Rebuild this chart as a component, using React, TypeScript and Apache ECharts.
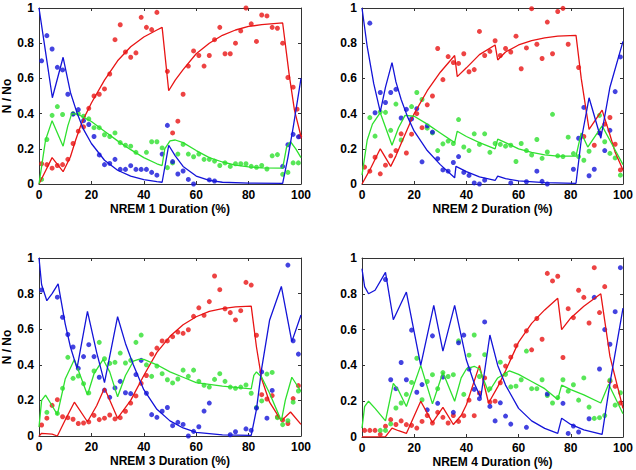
import React, { useEffect, useRef } from "react";
import * as echarts from "echarts";

const xTicks = [0, 20, 40, 60, 80, 100];
const yTicks = [0, 0.2, 0.4, 0.6, 0.8, 1];
const panelTitles = ["NREM 1 Duration (%)", "NREM 2 Duration (%)", "NREM 3 Duration (%)", "NREM 4 Duration (%)"];
const yTitle = "N / No";

// Panel 1 data
const p1Red = [[1,0.115],[3,0.11],[5,0.09],[7,0.105],[9,0.11],[11,0.14],[13,0.23],[15,0.30],[17,0.325],[19,0.43],[21,0.50],[23,0.51],[25,0.54],[27,0.625],[29,0.82],[31,0.905],[33,0.75],[35,0.72],[37,0.745],[39,0.947],[41,0.89],[43,0.877],[45,0.975],[49,0.64],[51,0.29],[53,0.357],[55,0.51],[57,0.67],[59,0.756],[61,0.73],[63,0.67],[65,0.73],[67,0.82],[69,0.89],[71,0.74],[73,0.74],[75,0.80],[77,0.87],[79,1.0],[81,0.91],[83,0.81],[85,0.96],[87,0.955],[89,0.89],[91,0.885],[93,0.80],[95,0.605],[97,0.55],[98.5,0.425],[99.5,0.27]];
const p1Green = [[1,0.026],[3,0.253],[5,0.39],[7,0.44],[9,0.395],[13,0.40],[15,0.40],[17,0.385],[19,0.37],[21,0.32],[23,0.32],[25,0.28],[27,0.27],[29,0.29],[31,0.235],[33,0.22],[35,0.215],[37,0.18],[41,0.18],[43,0.24],[45,0.24],[47,0.205],[49,0.093],[51,0.12],[53,0.17],[55,0.225],[57,0.17],[59,0.155],[61,0.17],[63,0.14],[65,0.14],[67,0.13],[69,0.105],[71,0.12],[73,0.10],[75,0.115],[77,0.115],[79,0.115],[81,0.10],[83,0.095],[85,0.105],[87,0.085],[89,0.16],[91,0.167],[93,0.055],[95,0.066],[97,0.12],[99,0.12]];
const p1Blue = [[1,0.70],[3,0.843],[5,0.767],[7,0.663],[9,0.648],[11,0.51],[13,0.397],[15,0.423],[17,0.36],[19,0.338],[21,0.27],[23,0.165],[25,0.11],[27,0.117],[29,0.14],[31,0.083],[33,0.083],[35,0.104],[37,0.083],[39,0.083],[41,0.083],[43,0.066],[45,0.05],[47,0.17],[49,0.333],[51,0.127],[53,0.057],[55,0.074],[57,0.026],[59,0.0],[65,0.023],[67,0.017],[93,0.1],[95,0.223],[97,0.282],[99,0.268]];
const p1RedFit = [[0,0],[2,0.06],[5,0.15],[9.2,0.07],[12,0.155],[14,0.25],[16,0.335],[18,0.40],[20,0.46],[25,0.59],[30,0.70],[35,0.78],[40,0.835],[45,0.875],[47,0.89],[49.5,0.53],[52,0.59],[55,0.65],[60,0.74],[65,0.8],[70,0.845],[75,0.875],[80,0.895],[85,0.905],[93,0.915],[95.5,0.62],[97.5,0.42],[100,0.27]];
const p1GreenFit = [[0,0],[1,0.1],[2.5,0.25],[5,0.36],[9.2,0.215],[11,0.33],[12.5,0.4],[15,0.395],[20,0.355],[25,0.30],[30,0.245],[35,0.195],[40,0.15],[45,0.115],[47,0.105],[48,0.2],[50,0.245],[52,0.25],[55,0.235],[60,0.19],[65,0.15],[70,0.125],[75,0.107],[80,0.097],[85,0.092],[93,0.09],[94.5,0.21],[96,0.24],[98,0.2],[100,0.15]];
const p1BlueFit = [[0,1],[2,0.8],[5.1,0.49],[9.2,0.72],[12,0.52],[14.6,0.40],[17,0.31],[20,0.23],[25,0.135],[30,0.078],[35,0.045],[40,0.025],[45,0.013],[47,0.01],[49.5,0.22],[52,0.16],[55,0.1],[60,0.045],[65,0.02],[70,0.01],[80,0.005],[93,0.003],[95,0.15],[97,0.32],[100,0.6]];

// Panel 2 data
const p2Red = [[1,0.096],[3,0.073],[5,0.152],[7,0.058],[9,0.107],[11,0.16],[13,0.19],[15,0.285],[17,0.176],[19,0.283],[21,0.40],[23,0.32],[25,0.45],[27,0.50],[29,0.77],[31,0.593],[33,0.724],[35,0.69],[37,0.685],[39,0.74],[41,0.638],[43,0.65],[45,0.867],[47,0.73],[49,0.754],[51,0.814],[53,0.73],[55,0.77],[57,0.75],[59,0.84],[61,0.655],[63,0.773],[65,0.996],[67,0.794],[69,0.713],[71,0.92],[73,0.74],[75,0.98],[77,0.998],[79,0.794],[83,0.662],[85,0.27],[89,0.22],[91,0.29],[93,0.34],[95,0.378],[97,0.226],[99,0.08]];
const p2Green = [[3,0.377],[5,0.272],[7,0.41],[9,0.407],[11,0.305],[13,0.454],[15,0.25],[19,0.44],[21,0.52],[23,0.48],[25,0.317],[27,0.29],[29,0.19],[31,0.228],[33,0.244],[35,0.23],[37,0.366],[39,0.21],[41,0.19],[43,0.285],[45,0.225],[47,0.285],[49,0.18],[51,0.23],[53,0.225],[55,0.215],[57,0.22],[59,0.128],[61,0.23],[63,0.19],[65,0.165],[67,0.253],[69,0.146],[71,0.182],[73,0.396],[75,0.16],[77,0.156],[79,0.266],[81,0.173],[83,0.156],[85,0.135],[87,0.186],[91,0.39],[93,0.24],[95,0.174],[97,0.148],[99,0.05]];
const p2Blue = [[3,0.914],[5,0.405],[7,0.52],[9,0.463],[11,0.52],[13,0.538],[15,0.375],[17,0.424],[19,0.37],[21,0.428],[23,0.126],[25,0.33],[27,0.295],[29,0.144],[31,0.08],[33,0.073],[35,0.122],[37,0.156],[39,0.066],[41,0.049],[43,0.006],[45,0.0],[47,0.022],[57,0.006],[63,0.013],[67,0.073],[69,0.015],[71,0.0],[81,0.084],[83,0.26],[85,0.435],[87,0.047],[89,0.084],[91,0.29],[93,0.19],[95,0.305],[97,0.525],[99,0.722]];
const p2RedFit = [[0,0],[3,0.08],[7,0.2],[11,0.1],[13,0.16],[15,0.23],[20,0.40],[25,0.53],[30,0.635],[35.5,0.73],[36.5,0.61],[40,0.66],[45,0.735],[51,0.79],[52,0.705],[55,0.75],[60,0.79],[65,0.815],[70,0.83],[75,0.84],[82,0.845],[84,0.6],[87,0.31],[92,0.42],[95,0.28],[97,0.18],[100,0.08]];
const p2GreenFit = [[0,0.05],[2,0.25],[4,0.34],[7,0.405],[11.5,0.22],[14,0.32],[16.5,0.39],[20,0.385],[25,0.34],[30,0.29],[35.5,0.235],[36.5,0.3],[40,0.27],[45,0.235],[51,0.2],[52,0.255],[55,0.235],[60,0.2],[65,0.18],[70,0.165],[75,0.158],[82,0.158],[84,0.29],[86.5,0.21],[92,0.33],[96,0.22],[100,0.11]];
const p2BlueFit = [[0,1],[2,0.78],[4.5,0.57],[7,0.41],[9,0.55],[11.5,0.69],[13,0.58],[15,0.48],[17.5,0.38],[20,0.30],[25,0.19],[30,0.11],[35.5,0.035],[36,0.1],[40,0.07],[45,0.04],[51,0.02],[52,0.045],[55,0.03],[60,0.018],[70,0.008],[82,0.004],[84,0.25],[87,0.49],[91.5,0.26],[95,0.55],[100,0.81]];

// Panel 3 data
const p3Red = [[1,0.062],[3,0.1],[5,0.172],[7,0.204],[9,0.108],[11,0.103],[13,0.094],[15,0.07],[17,0.073],[19,0.079],[21,0.116],[23,0.092],[25,0.1],[27,0.118],[29,0.096],[31,0.103],[33,0.139],[35,0.185],[37,0.225],[39,0.296],[41,0.34],[43,0.46],[45,0.494],[47,0.534],[49,0.534],[51,0.558],[53,0.584],[55,0.577],[57,0.597],[59,0.672],[61,0.72],[63,0.678],[65,0.755],[67,0.899],[69,0.822],[71,0.715],[73,0.693],[75,0.652],[77,0.704],[79,0.863],[81,0.848],[83,0.566],[85,0.232],[87,0.208],[89,0.227],[91,0.107],[93,0.09],[95,0.07],[97,0.21],[99,0.283]];
const p3Green = [[3,0.133],[7,0.127],[9,0.268],[11,0.442],[13,0.324],[15,0.337],[17,0.294],[19,0.242],[21,0.365],[23,0.526],[25,0.434],[27,0.408],[29,0.414],[31,0.466],[33,0.41],[35,0.425],[37,0.526],[39,0.567],[41,0.40],[43,0.335],[45,0.393],[47,0.35],[49,0.316],[51,0.298],[53,0.32],[55,0.37],[57,0.335],[59,0.37],[61,0.307],[63,0.285],[65,0.275],[67,0.318],[69,0.35],[71,0.307],[73,0.275],[75,0.268],[77,0.275],[79,0.287],[81,0.24],[83,0.16],[85,0.197],[87,0.348],[89,0.357],[91,0.103],[93,0.064],[95,0.086],[97,0.19],[99,0.253]];
const p3Blue = [[1,0.82],[7,0.78],[9,0.667],[11,0.57],[13,0.50],[15,0.38],[17,0.446],[19,0.513],[21,0.446],[23,0.33],[25,0.257],[27,0.217],[29,0.27],[31,0.307],[33,0.243],[35,0.238],[37,0.345],[39,0.425],[41,0.24],[43,0.12],[45,0.105],[47,0.139],[49,0.16],[51,0.058],[53,0.077],[55,0.065],[57,0.0],[59,0.026],[61,0.052],[63,0.14],[65,0.185],[73,0.007],[75,0.024],[79,0.04],[81,0.032],[83,0.157],[85,0.36],[87,0.1],[89,0.256],[95,0.96],[97,0.535],[99,0.46]];
const p3RedFit = [[0,0],[1,0.015],[5,0.01],[7,0.0],[10,0.09],[13.5,0.19],[18.5,0.08],[22,0.17],[25,0.27],[30,0.10],[35,0.2],[40,0.34],[45,0.47],[50,0.56],[55,0.625],[60,0.67],[65,0.70],[70,0.715],[75,0.725],[81,0.73],[83,0.5],[85,0.32],[88,0.19],[92.5,0.085],[96,0.135],[100,0.065]];
const p3GreenFit = [[0,0.05],[1,0.2],[2.5,0.23],[5,0.17],[7,0.12],[10,0.32],[13.5,0.43],[18.5,0.23],[21,0.35],[24.5,0.43],[27,0.36],[30,0.22],[33,0.34],[36,0.42],[38,0.43],[40,0.43],[45,0.40],[50,0.36],[55,0.33],[60,0.3],[70,0.28],[81,0.265],[82,0.34],[83,0.36],[85,0.33],[88,0.24],[92.5,0.085],[94,0.2],[96.5,0.33],[100,0.25]];
const p3BlueFit = [[0,1],[1,0.85],[3,0.76],[5,0.8],[7.3,0.855],[10,0.63],[12,0.5],[14.5,0.38],[18.5,0.70],[22,0.47],[25,0.30],[30,0.67],[33,0.52],[36,0.40],[40,0.26],[45,0.15],[50,0.085],[55,0.045],[60,0.02],[70,0.006],[81,0.003],[83,0.15],[85,0.38],[88,0.65],[92.5,0.84],[96.5,0.53],[100,0.68]];

// Panel 4 data
const p4Red = [[1,0.037],[3,0.037],[5,0.037],[7,0.015],[9,0.06],[11,0.097],[13,0.07],[15,0.09],[17,0.069],[19,0.065],[21,0.05],[23,0.087],[25,0.12],[27,0.078],[29,0.138],[31,0.11],[33,0.078],[35,0.12],[37,0.087],[39,0.119],[41,0.206],[43,0.119],[45,0.245],[47,0.33],[49,0.195],[51,0.2],[53,0.303],[55,0.396],[57,0.446],[59,0.51],[63,0.593],[65,0.487],[67,0.662],[69,0.546],[71,0.914],[73,0.872],[75,0.898],[77,0.444],[79,0.717],[81,0.667],[83,0.82],[85,0.78],[87,0.637],[89,0.946],[91,0.695],[93,0.84],[95,0.312],[97,0.283],[99,0.19]];
const p4Green = [[7,0.037],[9,0.037],[11,0.073],[13,0.162],[15,0.19],[17,0.238],[19,0.305],[21,0.44],[23,0.208],[25,0.31],[27,0.348],[29,0.27],[31,0.36],[33,0.338],[35,0.348],[37,0.537],[39,0.238],[41,0.457],[43,0.57],[45,0.338],[47,0.46],[49,0.27],[53,0.418],[55,0.35],[57,0.28],[59,0.284],[61,0.32],[63,0.48],[65,0.27],[67,0.27],[69,0.32],[71,0.232],[73,0.19],[75,0.22],[77,0.32],[79,0.256],[81,0.292],[83,0.206],[85,0.33],[87,0.167],[89,0.104],[91,0.108],[93,0.12],[95,0.318],[97,0.178],[99,0.247]];
const p4Blue = [[9,0.88],[11,0.32],[13,0.27],[15,0.416],[17,0.32],[19,0.597],[21,0.25],[23,0.293],[25,0.152],[27,0.565],[29,0.188],[31,0.335],[35,0.138],[37,0.526],[39,0.569],[41,0.38],[43,0.266],[45,0.214],[47,0.643],[49,0.171],[51,0.09],[53,0.191],[55,0.117],[57,0.072],[63,0.054],[71,0.24],[77,0.188],[79,0.02],[81,0.061],[83,0.028],[87,0.102],[89,0.78],[91,0.38],[93,0.6],[95,0.518],[97,0.7],[99,0.946]];
const p4RedFit = [[0,0],[9,0.002],[11.5,0.05],[14,0.035],[17,0.02],[22.5,0.2],[27,0.08],[31,0.165],[35,0.07],[38,0.12],[40,0.18],[45,0.4],[48.5,0.19],[52,0.28],[55,0.37],[60,0.53],[65,0.635],[70,0.71],[75,0.775],[76.5,0.6],[80,0.665],[85,0.73],[91.5,0.8],[93,0.65],[95,0.45],[100,0.16]];
const p4GreenFit = [[0,0.05],[1,0.17],[2.5,0.2],[5,0.16],[9,0.09],[12,0.3],[14,0.26],[17,0.17],[22.5,0.4],[27,0.185],[31,0.36],[35.5,0.2],[38,0.33],[40,0.38],[43,0.395],[45,0.38],[48.5,0.25],[52,0.33],[56.5,0.37],[60,0.35],[65,0.31],[70,0.27],[75,0.21],[76.5,0.29],[80,0.265],[85,0.235],[91.5,0.19],[94.5,0.295],[100,0.13]];
const p4BlueFit = [[0,0.94],[1,0.84],[2.5,0.8],[5,0.82],[9,0.92],[12,0.655],[17,0.81],[22.5,0.4],[27.5,0.735],[31,0.48],[35.5,0.735],[40,0.43],[43,0.3],[45.5,0.22],[49,0.57],[52,0.4],[55,0.29],[60,0.16],[65,0.09],[70,0.048],[75,0.02],[76.5,0.105],[80,0.07],[85,0.04],[92,0.015],[95,0.3],[100,0.72]];

const RED = "#e81414";
const GREEN = "#2ee02e";
const BLUE = "#1414d8";
const FONT = "'Liberation Sans', Arial, Helvetica, sans-serif";

const panels = [
  { dots: [p1Red, p1Green, p1Blue], fits: [p1RedFit, p1GreenFit, p1BlueFit], grid: { left: 38, top: 8, width: 263, height: 176 } },
  { dots: [p2Red, p2Green, p2Blue], fits: [p2RedFit, p2GreenFit, p2BlueFit], grid: { left: 362, top: 8, width: 262, height: 176 } },
  { dots: [p3Red, p3Green, p3Blue], fits: [p3RedFit, p3GreenFit, p3BlueFit], grid: { left: 38, top: 258, width: 263, height: 178 } },
  { dots: [p4Red, p4Green, p4Blue], fits: [p4RedFit, p4GreenFit, p4BlueFit], grid: { left: 362, top: 258, width: 262, height: 179 } },
];

export default function App() {
  const ref = useRef<HTMLDivElement>(null);
  useEffect(() => {
    document.body.style.margin = "0";
    if (!ref.current) return;
    const chart = echarts.init(ref.current, null, { renderer: "svg" });
    const colors = [RED, GREEN, BLUE];
    const grids: any[] = [];
    const xAxes: any[] = [];
    const yAxes: any[] = [];
    const series: any[] = [];
    const lineStyle = { color: "#333", width: 1 };
    const tick = { show: true, inside: true, length: 3, lineStyle: { color: "#333" } };
    const label = { color: "#000", fontWeight: "bold", fontSize: 12, fontFamily: FONT };
    panels.forEach((p, i) => {
      grids.push({ ...p.grid, show: false });
      const xBase = {
        type: "value", gridIndex: i, min: 0, max: 100, interval: 20,
        splitLine: { show: false }, axisLine: { show: true, onZero: false, lineStyle }, axisTick: tick,
      };
      xAxes.push({
        ...xBase, position: "bottom",
        axisLabel: { ...label, margin: 5, formatter: (v: number) => (xTicks.includes(v) ? String(v) : "") },
        name: panelTitles[i], nameLocation: "middle", nameGap: 19,
        nameTextStyle: { ...label, fontSize: 12 },
      });
      xAxes.push({ ...xBase, position: "top", axisLabel: { show: false } });
      const yBase = {
        type: "value", gridIndex: i, min: 0, max: 1, interval: 0.2,
        splitLine: { show: false }, axisLine: { show: true, onZero: false, lineStyle }, axisTick: tick,
      };
      const left: any = {
        ...yBase, position: "left",
        axisLabel: { ...label, margin: 5, formatter: (v: number) => String(yTicks.find((t) => Math.abs(t - v) < 1e-6) ?? "") },
      };
      if (i % 2 === 0) {
        left.name = yTitle;
        left.nameLocation = "middle";
        left.nameGap = 26;
        left.nameRotate = 90;
        left.nameTextStyle = { ...label, fontSize: 12 };
      }
      yAxes.push(left);
      yAxes.push({ ...yBase, position: "right", axisLabel: { show: false } });
      p.dots.forEach((d, k) => {
        series.push({
          type: "scatter", xAxisIndex: 2 * i, yAxisIndex: 2 * i, data: d,
          symbol: "circle", symbolSize: 5, itemStyle: { color: colors[k] }, silent: true,
        });
      });
      p.fits.forEach((f, k) => {
        series.push({
          type: "line", xAxisIndex: 2 * i, yAxisIndex: 2 * i, data: f,
          showSymbol: false, symbol: "none", lineStyle: { color: colors[k], width: 1.3 }, silent: true,
        });
      });
    });
    chart.setOption({
      animation: false,
      backgroundColor: "#fff",
      grid: grids,
      xAxis: xAxes,
      yAxis: yAxes,
      series,
    });
    return () => chart.dispose();
  }, []);
  return <div ref={ref} style={{ position: "absolute", left: 0, top: 0, width: 636, height: 470 }} />;
}
